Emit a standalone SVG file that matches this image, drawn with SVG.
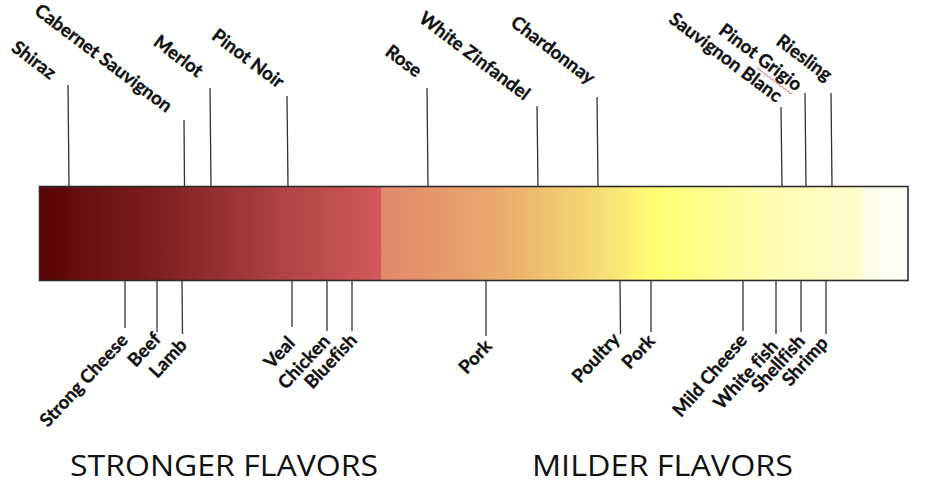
<svg xmlns="http://www.w3.org/2000/svg" width="930" height="493" viewBox="0 0 930 493">
<defs>
<linearGradient id="gStrong" x1="0" y1="0" x2="1" y2="0">
<stop offset="0" stop-color="#5a0404"/>
<stop offset="0.35" stop-color="#801f1f"/>
<stop offset="0.7" stop-color="#ad4242"/>
<stop offset="1" stop-color="#d25a5a"/>
</linearGradient>
<linearGradient id="gMild" x1="0" y1="0" x2="1" y2="0">
<stop offset="0" stop-color="#e2876c"/>
<stop offset="0.25" stop-color="#eaac6c"/>
<stop offset="0.45" stop-color="#f5dc74"/>
<stop offset="0.57" stop-color="#ffff72"/>
<stop offset="0.8" stop-color="#fffdae"/>
<stop offset="1" stop-color="#fffbd0"/>
</linearGradient>
<linearGradient id="gPale" x1="0" y1="0" x2="1" y2="0">
<stop offset="0" stop-color="#fffde8"/>
<stop offset="1" stop-color="#fffff8"/>
</linearGradient>
</defs>
<style>
.lbl{font-family:Lato,"Liberation Sans",sans-serif;font-weight:bold;font-size:18.5px;fill:#111;stroke:#111;stroke-width:0.35;font-variant-ligatures:none;}
.big{font-family:"Open Sans","Liberation Sans",sans-serif;font-size:30px;fill:#111;}
.tick{stroke:#333;stroke-width:1.3;fill:none;}
</style>
<rect width="930" height="493" fill="#fff"/>

<g id="bar">
<rect x="39.5" y="186.5" width="342" height="94" fill="url(#gStrong)"/>
<rect x="381" y="186.5" width="483" height="94" fill="url(#gMild)"/>
<rect x="863" y="186.5" width="45" height="94" fill="url(#gPale)"/>
<rect x="39.5" y="186.5" width="868.5" height="94" fill="none" stroke="#2e2e2e" stroke-width="1.6"/>
</g>

<g id="connectors">
<line class="tick" x1="68" y1="85" x2="69" y2="186"/>
<line class="tick" x1="184" y1="120" x2="184.5" y2="186"/>
<line class="tick" x1="210" y1="88" x2="211" y2="186"/>
<line class="tick" x1="287" y1="96" x2="288" y2="186"/>
<line class="tick" x1="427" y1="88" x2="428" y2="186"/>
<line class="tick" x1="537" y1="106" x2="538" y2="186"/>
<line class="tick" x1="597" y1="97" x2="598" y2="186"/>
<line class="tick" x1="781" y1="107" x2="782" y2="186"/>
<line class="tick" x1="805" y1="93" x2="806" y2="186"/>
<line class="tick" x1="831" y1="93" x2="832" y2="186"/>

<line class="tick" x1="125" y1="281" x2="125" y2="328"/>
<line class="tick" x1="157" y1="281" x2="157" y2="332"/>
<line class="tick" x1="182" y1="281" x2="182.5" y2="334"/>
<line class="tick" x1="292" y1="281" x2="292" y2="327"/>
<line class="tick" x1="327" y1="281" x2="327" y2="331"/>
<line class="tick" x1="352" y1="281" x2="352" y2="331"/>
<line class="tick" x1="486" y1="281" x2="486" y2="336"/>
<line class="tick" x1="620" y1="281" x2="620.5" y2="334"/>
<line class="tick" x1="651" y1="281" x2="651" y2="332"/>
<line class="tick" x1="743" y1="281" x2="743" y2="331"/>
<line class="tick" x1="776" y1="281" x2="776" y2="334"/>
<line class="tick" x1="801" y1="281" x2="801" y2="332"/>
<line class="tick" x1="826" y1="281" x2="826" y2="334"/>
</g>

<g id="wines">
<text id="shiraz" class="lbl" text-anchor="end" x="50" y="80" transform="rotate(37 50 80)">Shiraz</text>
<text id="cabernet" class="lbl" text-anchor="end" x="166" y="113" transform="rotate(37 166 113)">Cabernet Sauvignon</text>
<text id="merlot" class="lbl" text-anchor="end" x="197" y="78" transform="rotate(37 197 78)">Merlot</text>
<text id="pinot-noir" class="lbl" text-anchor="end" x="278" y="89" transform="rotate(37 278 89)">Pinot Noir</text>
<text id="rose" class="lbl" text-anchor="end" x="416" y="78" transform="rotate(37 416 78)">Rose</text>
<text id="white-zin" class="lbl" text-anchor="end" x="524" y="101" transform="rotate(37 524 101)">White Zinfandel</text>
<text id="chardonnay" class="lbl" text-anchor="end" x="589" y="85" transform="rotate(37 589 85)">Chardonnay</text>
<text id="sauv-blanc" class="lbl" text-anchor="end" x="776" y="103" transform="rotate(37 776 103)">Sauvignon Blanc</text>
<g id="pinot-grigio" transform="translate(796 92) rotate(37)">
<text class="lbl" text-anchor="end" x="0" y="0">Pinot Grigio</text>
<path d="M-46 3.5 l2 1.5 l2 -1.5 l2 1.5 l2 -1.5 l2 1.5 l2 -1.5 l2 1.5 l2 -1.5 l2 1.5 l2 -1.5 l2 1.5 l2 -1.5 l2 1.5 l2 -1.5 l2 1.5 l2 -1.5 l2 1.5 l2 -1.5 l2 1.5 l2 -1.5 l2 1.5 l2 -1.5" fill="none" stroke="#d04040" stroke-width="0.8" opacity="0.7"/>
</g>
<text id="riesling" class="lbl" text-anchor="end" x="826" y="82" transform="rotate(37 826 82)">Riesling</text>
</g>

<g id="foods">
<text id="strong-cheese" class="lbl" text-anchor="end" x="129" y="341" transform="rotate(-47 129 341)">Strong Cheese</text>
<text id="beef" class="lbl" text-anchor="end" x="162" y="340" transform="rotate(-47 162 340)">Beef</text>
<text id="lamb" class="lbl" text-anchor="end" x="188" y="346" transform="rotate(-47 188 346)">Lamb</text>
<text id="veal" class="lbl" text-anchor="end" x="296" y="344" transform="rotate(-47 296 344)">Veal</text>
<text id="chicken" class="lbl" text-anchor="end" x="331" y="342" transform="rotate(-47 331 342)">Chicken</text>
<text id="bluefish" class="lbl" text-anchor="end" x="358" y="341" transform="rotate(-47 358 341)">Bluefish</text>
<text id="pork1" class="lbl" text-anchor="end" x="493" y="347" transform="rotate(-47 493 347)">Pork</text>
<text id="poultry" class="lbl" text-anchor="end" x="621" y="340" transform="rotate(-47 621 340)">Poultry</text>
<text id="pork2" class="lbl" text-anchor="end" x="656" y="342" transform="rotate(-47 656 342)">Pork</text>
<text id="mild-cheese" class="lbl" text-anchor="end" x="748" y="341" transform="rotate(-49 748 341)">Mild Cheese</text>
<text id="white-fish" class="lbl" text-anchor="end" x="779" y="347" transform="rotate(-48 779 347)">White fish</text>
<text id="shellfish" class="lbl" text-anchor="end" x="806" y="342" transform="rotate(-48 806 342)">Shellfish</text>
<text id="shrimp" class="lbl" text-anchor="end" x="829" y="344" transform="rotate(-48 829 344)">Shrimp</text>
</g>

<g id="headings">
<text id="stronger" class="big" x="70" y="476" textLength="308" lengthAdjust="spacingAndGlyphs">STRONGER FLAVORS</text>
<text id="milder" class="big" x="532" y="476" textLength="261" lengthAdjust="spacingAndGlyphs">MILDER FLAVORS</text>
</g>
</svg>
